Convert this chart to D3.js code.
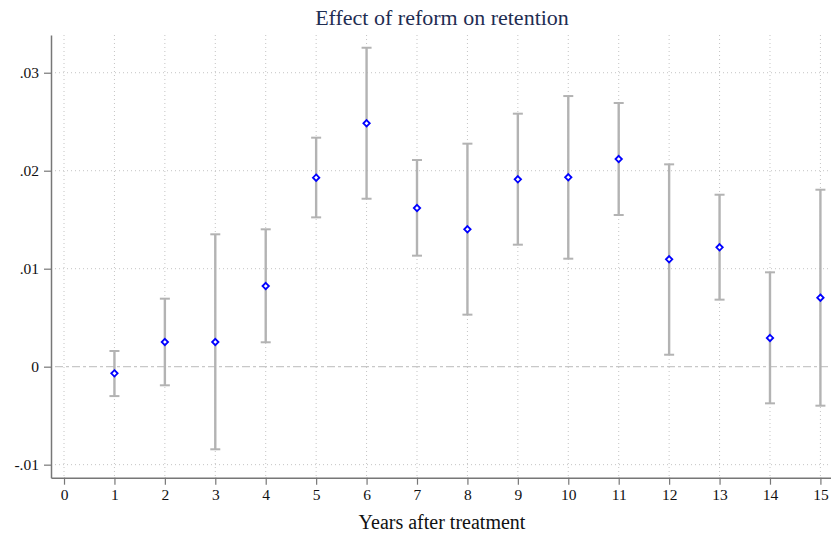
<!DOCTYPE html>
<html>
<head>
<meta charset="utf-8">
<script src="https://cdn.jsdelivr.net/npm/d3@7"></script>
<style>
  html, body { margin: 0; padding: 0; background: #ffffff; }
  svg { display: block; font-family: "Liberation Serif", "Times New Roman", serif; }
</style>
</head>
<body>
<svg id="chart" width="831" height="535"></svg>
<script>
// Event-study estimates: point estimate and 95% CI by year after treatment
const years    = [1, 2, 3, 4, 5, 6, 7, 8, 9, 10, 11, 12, 13, 14, 15];
const estimate = [-0.00068, 0.00252, 0.00252, 0.00823, 0.01929, 0.02484, 0.01619, 0.01402, 0.01912, 0.01933, 0.02119, 0.01096, 0.01218, 0.00293, 0.00704];
const ciLower  = [-0.00300, -0.00190, -0.00843, 0.00249, 0.01524, 0.01714, 0.01133, 0.00531, 0.01245, 0.01102, 0.01548, 0.00122, 0.00684, -0.00374, -0.00398];
const ciUpper  = [0.00160, 0.00694, 0.01351, 0.01402, 0.02337, 0.03255, 0.02109, 0.02276, 0.02582, 0.02762, 0.02691, 0.02065, 0.01755, 0.00963, 0.01806];

const xTicks = d3.range(0, 16);
const yTicks = [-0.01, 0, 0.01, 0.02, 0.03];
const yTickLabels = ["-.01", "0", ".01", ".02", ".03"];

const titleText = "Effect of reform on retention";
const xTitle = "Years after treatment";

const svg = d3.select("#chart");
const plotLeft = 51, plotRight = 831, plotTop = 35, plotBottom = 477.7;

const x = d3.scaleLinear().domain([-0.258, 15.21]).range([plotLeft, plotRight]);
const y = d3.scaleLinear().domain([-0.01133, 0.03385]).range([plotBottom, plotTop]);

// Grid lines
const grid = svg.append("g");
grid.selectAll("line.vg").data(xTicks).join("line")
  .attr("class", "vg")
  .attr("x1", d => x(d)).attr("x2", d => x(d))
  .attr("y1", plotTop).attr("y2", plotBottom)
  .attr("stroke", "#c4c4c4").attr("stroke-width", 1)
  .attr("stroke-dasharray", "1,3");
grid.selectAll("line.hg").data(yTicks.filter(d => d !== 0)).join("line")
  .attr("class", "hg")
  .attr("x1", plotLeft + 4).attr("x2", plotRight)
  .attr("y1", d => y(d)).attr("y2", d => y(d))
  .attr("stroke", "#c4c4c4").attr("stroke-width", 1)
  .attr("stroke-dasharray", "1,3");

// Reference line at zero
svg.append("line")
  .attr("x1", plotLeft + 4).attr("x2", plotRight)
  .attr("y1", y(0)).attr("y2", y(0))
  .attr("stroke", "#c8c8c8").attr("stroke-width", 1.2)
  .attr("stroke-dasharray", "8,3,3,3");

// Axes
const axisColor = "#777777";
const yAxis = svg.append("g")
  .attr("transform", `translate(${plotLeft},0)`)
  .call(d3.axisLeft(y).tickValues(yTicks).tickSize(7).tickSizeOuter(0)
    .tickFormat((d, i) => yTickLabels[i]));
const xAxis = svg.append("g")
  .attr("transform", `translate(0,${plotBottom})`)
  .call(d3.axisBottom(x).tickValues(xTicks).tickSize(7).tickSizeOuter(0));

[xAxis, yAxis].forEach(g => {
  g.select(".domain").attr("stroke", axisColor).attr("stroke-width", 1.5);
  g.selectAll(".tick line").attr("stroke", axisColor).attr("stroke-width", 1.2);
  g.selectAll(".tick text")
    .attr("fill", "#111111")
    .style("font-family", "'Liberation Serif', 'Times New Roman', serif")
    .style("font-size", "15.5px");
});
yAxis.selectAll(".tick text").attr("x", -12);
xAxis.selectAll(".tick text").attr("y", 11);

// Confidence intervals
const ciColor = "#b3b3b3";
const ci = svg.append("g");
const capHalf = 5;
years.forEach((yr, i) => {
  const cx = x(yr);
  ci.append("line")
    .attr("x1", cx).attr("x2", cx)
    .attr("y1", y(ciLower[i])).attr("y2", y(ciUpper[i]))
    .attr("stroke", ciColor).attr("stroke-width", 2.4);
  [ciLower[i], ciUpper[i]].forEach(v => {
    ci.append("line")
      .attr("x1", cx - capHalf).attr("x2", cx + capHalf)
      .attr("y1", y(v)).attr("y2", y(v))
      .attr("stroke", ciColor).attr("stroke-width", 2);
  });
});

// Point estimates as hollow diamonds
const diamond = d3.symbol().type(d3.symbolDiamond2).size(26);
svg.append("g").selectAll("path").data(years).join("path")
  .attr("d", diamond)
  .attr("transform", (d, i) => `translate(${x(d)},${y(estimate[i])})`)
  .attr("fill", "#ffffff")
  .attr("stroke", "#0000ff")
  .attr("stroke-width", 1.8);

// Titles
svg.append("text")
  .attr("x", 442).attr("y", 25)
  .attr("text-anchor", "middle")
  .attr("fill", "#1f2d52")
  .style("font-size", "22px")
  .text(titleText);

svg.append("text")
  .attr("x", 442).attr("y", 529)
  .attr("text-anchor", "middle")
  .attr("fill", "#111111")
  .style("font-size", "20px")
  .text(xTitle);
</script>
</body>
</html>
